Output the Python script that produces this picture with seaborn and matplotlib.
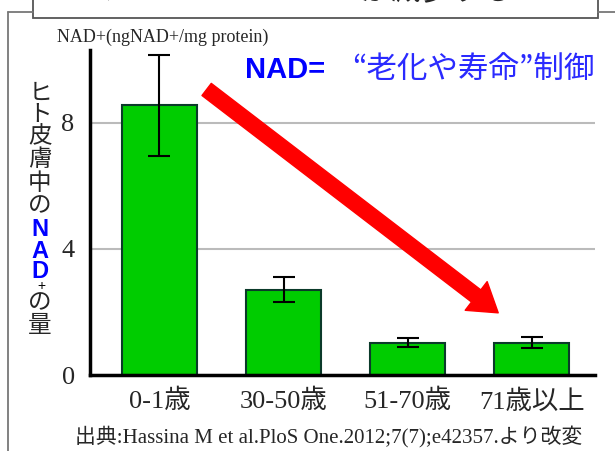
import matplotlib
matplotlib.use("Agg")
import pandas as pd
import seaborn as sns
from matplotlib import pyplot as plt
from matplotlib.lines import Line2D
from matplotlib.patches import Rectangle

ages = ["0-1歳", "30-50歳", "51-70歳", "71歳以上"]
nad = [8.55, 2.7, 1.02, 1.03]
err = [1.6, 0.4, 0.14, 0.18]
yticks = [0, 4, 8]

df = pd.DataFrame({"age": ages, "nad": nad})

sns.set_style("white")
jp_serif = ["Liberation Serif", "Noto Sans CJK JP"]
plt.rcParams["font.family"] = jp_serif

W, H = 615, 451
fig = plt.figure(figsize=(W / 100, H / 100), dpi=100)
ax = fig.add_axes([90 / W, 1 - 375 / H, 505 / W, 325 / H])

sns.barplot(data=df, x="age", y="nad", ax=ax, color="#00cc00", saturation=1,
            width=0.6, edgecolor="#0b3a2a", linewidth=1.5, errorbar=None)
ax.errorbar(range(len(ages)), nad, yerr=err, fmt="none", ecolor="black",
            elinewidth=1.5, capsize=8, capthick=1.5)

ax.set_ylim(0, 10.3)
ax.set_xlim(-0.56, 3.51)
ax.set_yticks(yticks)
ax.yaxis.grid(True, color="#bbbbbb", linewidth=1.5)
ax.set_axisbelow(True)
ax.set_xlabel("")
ax.set_ylabel("")
ax.tick_params(axis="both", length=0, labelsize=19)
ax.tick_params(axis="y", pad=11)
ax.tick_params(axis="x", pad=10)
for s in ["top", "right"]:
    ax.spines[s].set_visible(False)
for s in ["left", "bottom"]:
    ax.spines[s].set_linewidth(2.5)
    ax.spines[s].set_color("black")

# red arrow
ax.annotate("", xy=(2.73, 1.97), xytext=(0.38, 9.05),
            arrowprops=dict(arrowstyle="simple,head_width=1.3,head_length=1.0,tail_width=0.55",
                            color="#ff0000", mutation_scale=20, shrinkA=0, shrinkB=0))

def fx(px):
    return px / W

def fy(py):
    return 1 - py / H

# unit label
fig.text(fx(57), fy(37), "NAD+(ngNAD+/mg protein)", fontsize=13, va="center",
         ha="left", family=jp_serif)

# annotation
fig.text(fx(245), fy(70), "NAD=", fontsize=21, fontweight="bold", color="#0000ff",
         va="center", ha="left", family=["Liberation Sans", "Noto Sans CJK JP"])
fig.text(fx(352), fy(70), "“老化や寿命”制御", fontsize=22, color="#2a2aff",
         va="center", ha="left", family=["Noto Sans CJK JP"])

# vertical y label
chars = [("ヒ", 93), ("ト", 114), ("皮", 137), ("膚", 160), ("中", 183), ("の", 206),
         ("N", 229), ("A", 251), ("D", 271), ("+", 286), ("の", 303), ("量", 325)]
for ch, py in chars:
    if ch in "NAD":
        fig.text(fx(40), fy(py), ch, fontsize=17, fontweight="bold", color="#0000ff",
                 ha="center", va="center", family=["Liberation Sans"])
    elif ch == "+":
        fig.text(fx(41), fy(py), ch, fontsize=10, color="black",
                 ha="center", va="center", family=["Liberation Sans"])
    else:
        fig.text(fx(40), fy(py), ch, fontsize=17, ha="center", va="center",
                 family=["Noto Sans CJK JP"])

# source
fig.text(fx(75), fy(437), "出典:Hassina M et al.PloS One.2012;7(7);e42357.より改変",
         fontsize=15, ha="left", va="center", family=jp_serif)

# frame lines and title box
fig.add_artist(Line2D([fx(8), fx(8)], [fy(12), 0], color="#777777", lw=1.3))
fig.add_artist(Line2D([fx(8), fx(33)], [fy(12), fy(12)], color="#777777", lw=1.3))
fig.add_artist(Line2D([fx(598), 1], [fy(12), fy(12)], color="#777777", lw=1.3))
fig.add_artist(Rectangle((fx(33), fy(18)), fx(565), 0.2, facecolor="white",
                         edgecolor="#555555", lw=1.3, zorder=0))
title_y = fy(-1)
fig.text(fx(105), title_y, "加齢により", fontsize=22, va="baseline", ha="left",
         family=["Noto Sans CJK JP"])
fig.text(fx(262), title_y, "NAD+", fontsize=22, va="baseline", ha="left",
         color="#2a2aff", family=["Noto Sans CJK JP"])
fig.text(fx(360), title_y, "が減少する", fontsize=22, va="baseline", ha="left",
         family=["Noto Sans CJK JP"])

fig.savefig("out.png", dpi=100)
